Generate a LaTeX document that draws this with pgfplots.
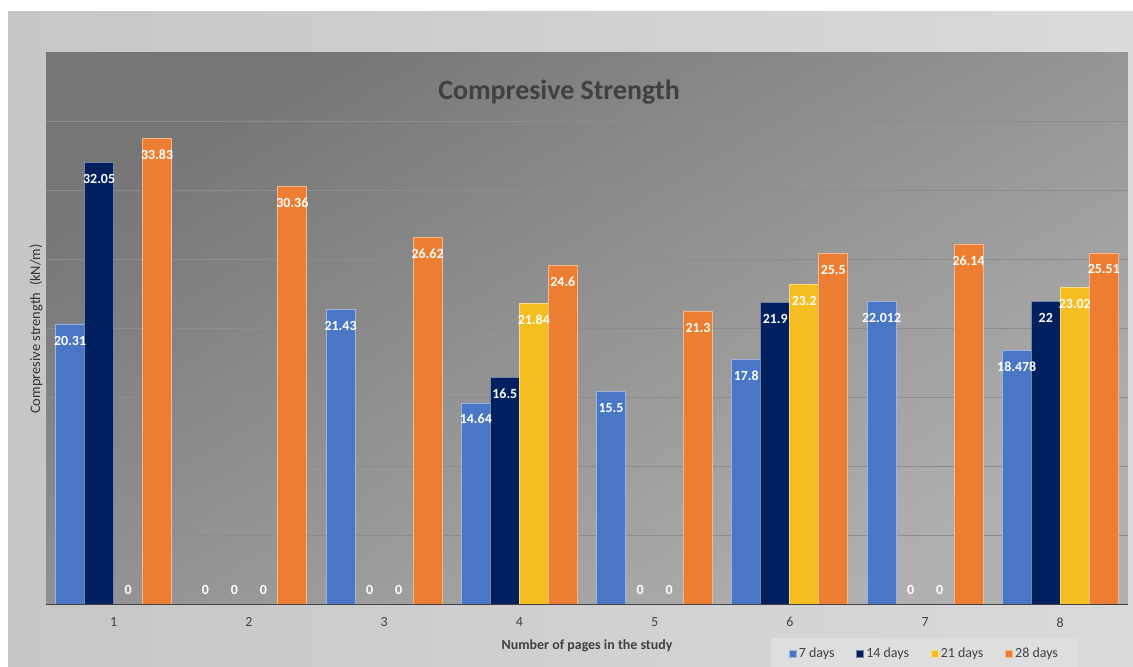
\documentclass[border=0pt]{standalone}
\usepackage{pgfplots}
\pgfplotsset{compat=1.18}
\usepackage{pgfplotstable}
\usepackage{fontspec}
\setmainfont{Carlito}

\definecolor{cA}{HTML}{4A76C6}
\definecolor{cB}{HTML}{002060}
\definecolor{cC}{HTML}{F5BD1F}
\definecolor{cD}{HTML}{ED7D31}
\definecolor{txt}{HTML}{404040}
\definecolor{ylab}{HTML}{333333}
\definecolor{gridc}{HTML}{8C8C8C}
\definecolor{bgTop}{HTML}{767676}
\definecolor{bgBot}{HTML}{B0B0B0}
\definecolor{panL}{HTML}{C6C6C6}
\definecolor{panM}{HTML}{ECECEC}
\definecolor{panR}{HTML}{DADADA}
\definecolor{legc}{HTML}{DEDEDE}

\pgfplotstableread{
x y
1 20.31
2 0
3 21.43
4 14.64
5 15.5
6 17.8
7 22.012
8 18.478
}\tseven
\pgfplotstableread{
x y
1 32.05
2 0
3 0
4 16.5
5 0
6 21.9
7 0
8 22
}\tfourteen
\pgfplotstableread{
x y
1 0
2 0
3 0
4 21.84
5 0
6 23.2
7 0
8 23.02
}\ttwentyone
\pgfplotstableread{
x y
1 33.83
2 30.36
3 26.62
4 24.6
5 21.3
6 25.5
7 26.14
8 25.51
}\ttwentyeight

\pgfplotsset{lbl/.style={
  point meta=explicit symbolic,
  nodes near coords={\ifdim\pgfplotspointmeta pt=0pt \raisebox{32bp}{0}\else\pgfplotspointmeta\fi},
  every node near coord/.append style={anchor=base, yshift=-21bp, text=white, font=\bfseries\fontsize{14}{16}\selectfont},
}}

\begin{document}
\begin{tikzpicture}
\fill[white] (0,0) rectangle (1133bp,667bp);
\shade[left color=panL, middle color=panM, right color=panR] (8bp,0) rectangle (1133bp,655bp);

\node[rotate=90, font=\fontsize{14.5}{16}\selectfont, text=ylab] at (36bp,338bp) {Compresive strength\ \ (kN/m)};
\node[font=\bfseries\fontsize{14}{16}\selectfont, text=txt, anchor=base] at (587bp,18bp) {Number of pages in the study};

\begin{axis}[
  at={(46bp,62bp)}, anchor=south west,
  scale only axis, width=1082bp, height=552bp,
  xmin=0.5, xmax=8.5, ymin=0, ymax=40,
  ybar=0pt, bar width=29bp,
  axis background/.style={top color=bgTop, bottom color=bgBot, shading angle=30},
  axis line style={draw=none},
  xtick={1,2,3,4,5,6,7,8},
  xticklabels={1,2,3,4,5,6,7,8},
  ytick={5,10,15,20,25,30,35}, yticklabels={},
  ymajorgrids, grid style={color=gridc, line width=1bp},
  major tick length=0pt,
  /pgf/number format/assume math mode=true,
  xticklabel style={font=\fontsize{14}{16}\selectfont, text=txt, yshift=-9bp},
  legend columns=4,
  legend style={at={(axis description cs:0.812,-0.088)}, anchor=center,
    fill=legc, draw=none, font=\fontsize{14}{16}\selectfont, text=txt,
    inner xsep=18bp, inner ysep=8bp,
    /tikz/every even column/.append style={column sep=20bp}},
  legend image code/.code={\fill[#1] (0bp,-3.5bp) rectangle (7bp,3.5bp);},
]
\addplot[fill=cA, draw=cA!55!white, line width=0.8bp, lbl] table[x=x, y=y, meta=y]{\tseven};
\addplot[fill=cB, draw=cB!55!white, line width=0.8bp, lbl] table[x=x, y=y, meta=y]{\tfourteen};
\addplot[fill=cC, draw=cC!55!white, line width=0.8bp, lbl] table[x=x, y=y, meta=y]{\ttwentyone};
\addplot[fill=cD, draw=cD!55!white, line width=0.8bp, lbl] table[x=x, y=y, meta=y]{\ttwentyeight};
\legend{7 days, 14 days, 21 days, 28 days}
\draw[txt, line width=2bp] (rel axis cs:0,0) -- (rel axis cs:1,0);
\end{axis}
\node[font=\bfseries\fontsize{28}{32}\selectfont, text=txt, anchor=base] at (559bp,567bp) {Compresive Strength};
\pgfresetboundingbox
\useasboundingbox (0,0) rectangle (1133bp,667bp);
\end{tikzpicture}
\end{document}
